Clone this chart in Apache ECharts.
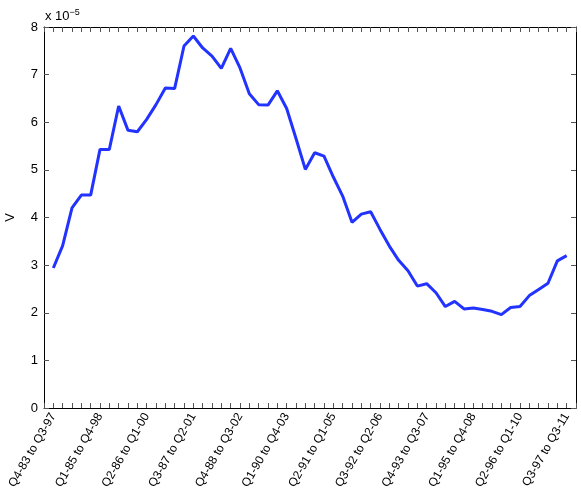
<!DOCTYPE html>
<html>
<head>
<meta charset="utf-8">
<script src="https://cdn.jsdelivr.net/npm/echarts@6/dist/echarts.min.js"></script>
<style>html,body{margin:0;padding:0;background:#fff}#c{width:581px;height:497px}</style>
</head>
<body>
<div id="c"></div>
<script>
// Rolling window index (56 windows), labels every 5th window
var tickLabels = ["Q4-83 to Q3-97","Q1-85 to Q4-98","Q2-86 to Q1-00","Q3-87 to Q2-01","Q4-88 to Q3-02","Q1-90 to Q4-03","Q2-91 to Q1-05","Q3-92 to Q2-06","Q4-93 to Q3-07","Q1-95 to Q4-08","Q2-96 to Q1-10","Q3-97 to Q3-11"];
var labelStep = 5;
// V values in units of 1e-5
var valuesE5 = [2.94,3.41,4.20,4.47,4.47,5.43,5.43,6.34,5.83,5.80,
                6.06,6.37,6.72,6.71,7.60,7.81,7.56,7.39,7.13,7.55,
                7.14,6.60,6.37,6.36,6.66,6.29,5.66,5.01,5.36,5.29,
                4.85,4.45,3.90,4.07,4.12,3.75,3.40,3.10,2.88,2.56,
                2.61,2.42,2.13,2.24,2.08,2.10,2.07,2.03,1.96,2.11,
                2.13,2.36,2.49,2.62,3.09,3.20];
var yTicks = [0,1,2,3,4,5,6,7,8];

var chart = echarts.init(document.getElementById('c'), null, {renderer:'canvas'});
var n = valuesE5.length;
var font = 'Liberation Sans, Arial, Helvetica, sans-serif';
function axLine(){ return {show:true, onZero:false, lineStyle:{color:'#000', width:1}}; }
var tick = {show:true, inside:true, length:5, lineStyle:{color:'#555', width:1}};
function xAxisBase(pos, showLabel){
  return {
    type:'value', position:pos, min:-1, max:n, interval:1,
    axisLine:axLine(), axisTick:tick, splitLine:{show:false},
    axisLabel:{show:showLabel, rotate:60, margin:6, fontSize:12, color:'#000', fontFamily:font,
      formatter:function(v){ if(v>=0 && v%labelStep===0){ var k=v/labelStep; return tickLabels[k]||''; } return ''; }}
  };
}
function yAxisBase(pos, showLabel){
  return {
    type:'value', position:pos, min:yTicks[0], max:yTicks[yTicks.length-1], interval:1,
    axisLine:axLine(), axisTick:tick, splitLine:{show:false},
    axisLabel:{show:showLabel, margin:6, fontSize:13, color:'#000', fontFamily:font}
  };
}
var xa0 = xAxisBase('bottom', true);
var xa1 = xAxisBase('top', false);
var ya0 = yAxisBase('left', true);
ya0.name = 'V'; ya0.nameLocation='middle'; ya0.nameGap=27; ya0.nameRotate=90;
ya0.nameTextStyle = {fontSize:13, color:'#000', fontFamily:font};
var ya1 = yAxisBase('right', false);

chart.setOption({
  animation:false,
  backgroundColor:'#fff',
  grid:{left:44, right:5, top:27, bottom:89, containLabel:false, outerBoundsMode:'none'},
  xAxis:[xa0, xa1],
  yAxis:[ya0, ya1],
  graphic:[{
    type:'text', left:45, top:8,
    style:{
      text:'x 10{s|\u22125}',
      font:'13px ' + font, fill:'#000',
      rich:{s:{fontSize:9, verticalAlign:'top', padding:[0,0,8,0], fontFamily:font}}
    }
  }],
  series:[{
    type:'line', xAxisIndex:0, yAxisIndex:0,
    data: valuesE5.map(function(v,i){return [i,v];}),
    showSymbol:false, symbol:'none',
    lineStyle:{color:'#2233ff', width:3},
    itemStyle:{color:'#2233ff'}
  }]
});
</script>
</body>
</html>
